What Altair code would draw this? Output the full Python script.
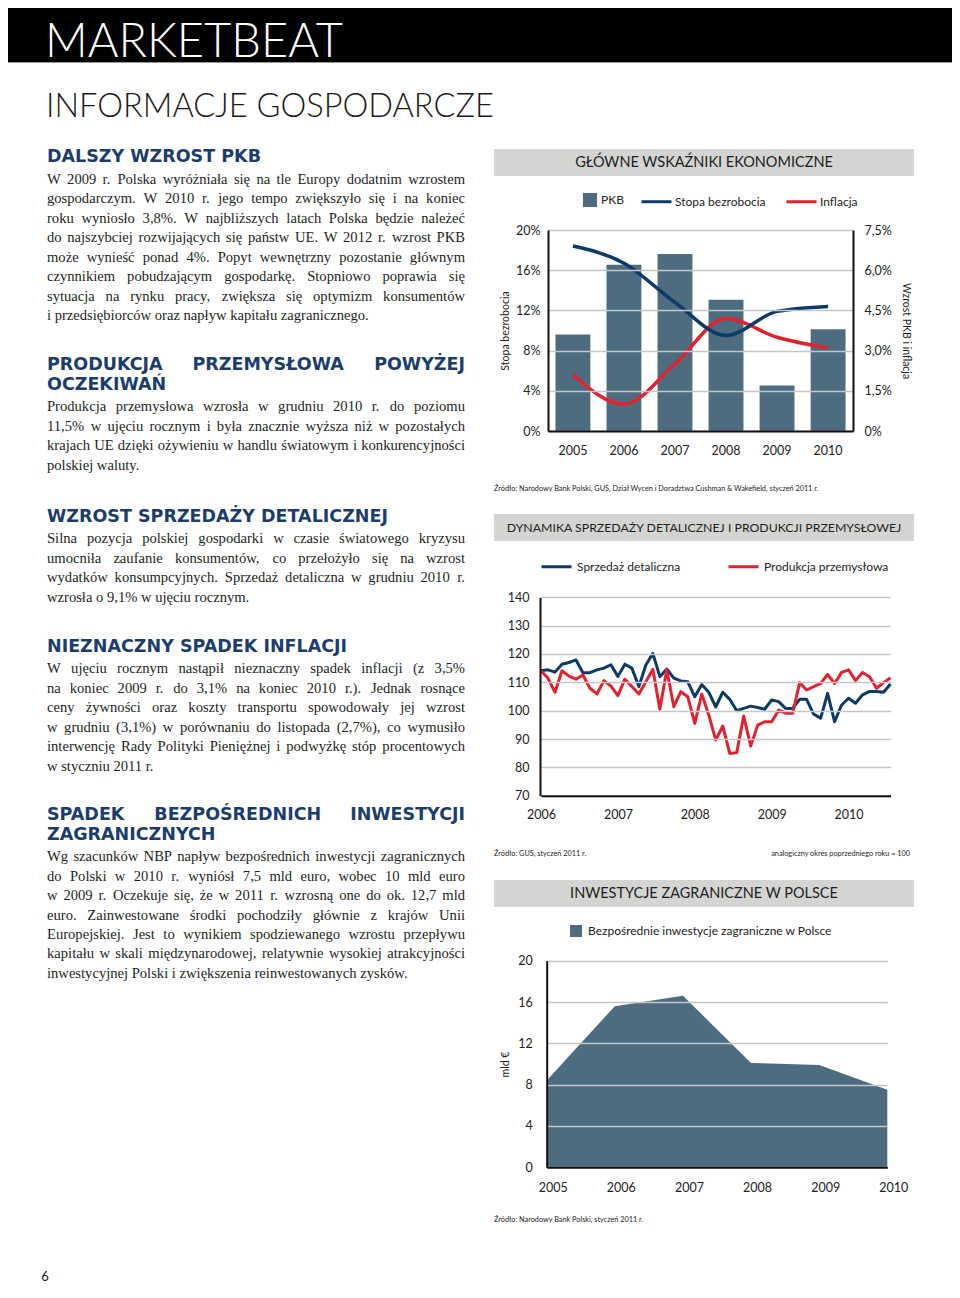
import json
import altair as alt
import pandas as pd

# ======================= DATA =======================
# Wykres 1: GŁÓWNE WSKAŹNIKI EKONOMICZNE
lata_wsk = ['2005', '2006', '2007', '2008', '2009', '2010']
pkb = [3.6, 6.2, 6.6, 4.9, 1.7, 3.8]                     # % (prawa oś)
stopa_bezrobocia = [18.4, 16.7, 12.8, 9.5, 11.9, 12.4]   # % (lewa oś)
inflacja = [2.1, 1.0, 2.5, 4.2, 3.5, 3.1]                # % (prawa oś)
ticks_lewa = [0, 4, 8, 12, 16, 20]
ticks_prawa = [0, 1.5, 3.0, 4.5, 6.0, 7.5]

# Wykres 2: DYNAMIKA SPRZEDAŻY DETALICZNEJ I PRODUKCJI PRZEMYSŁOWEJ (miesięcznie)
sprzedaz = [114.1, 114.4, 113.6, 116.4, 117.0, 117.9, 113.4, 113.4, 114.4, 115.0,
            116.2, 112.1, 116.4, 115.0, 108.5, 116.1, 120.2, 112.0, 114.7, 111.5,
            110.5, 110.2, 104.9, 109.2, 106.5, 101.3, 106.5, 104.0, 100.0, 100.8,
            101.6, 101.1, 100.5, 103.8, 103.2, 100.8, 100.8, 104.0, 104.0, 98.8,
            97.3, 106.1, 96.1, 102.0, 104.4, 102.6, 105.6, 106.8, 106.8, 106.5,
            109.4]
produkcja = [114.1, 111.4, 106.5, 114.1, 112.2, 111.1, 112.6, 107.9, 105.9, 110.6,
             108.7, 105.3, 111.1, 108.5, 105.9, 110.2, 114.6, 100.5, 114.4, 101.4,
             106.7, 104.9, 95.5, 105.9, 98.5, 89.6, 94.6, 84.9, 85.2, 98.1,
             87.5, 94.9, 96.1, 96.1, 100.2, 99.1, 99.1, 109.9, 107.3, 108.5,
             109.6, 112.8, 109.6, 113.5, 114.4, 110.6, 113.5, 112.0, 107.9, 109.9,
             111.6]
lata_dyn = ['2006', '2007', '2008', '2009', '2010']
lata_dyn_pozycja = [0, 11, 22, 33, 44]        # indeks miesiąca pod etykietą roku
ticks_dyn = [70, 80, 90, 100, 110, 120, 130, 140]

# Wykres 3: INWESTYCJE ZAGRANICZNE W POLSCE
lata_bzi = ['2005', '2006', '2007', '2008', '2009', '2010']
bzi = [8.4, 15.6, 16.6, 10.1, 9.9, 7.5]       # mld €
ticks_bzi = [0, 4, 8, 12, 16, 20]

# ======================= TEXT =======================
sekcje = [
    (["DALSZY WZROST PKB"],
     ["W 2009 r. Polska wyróżniała się na tle Europy dodatnim wzrostem",
      "gospodarczym. W 2010 r. jego tempo zwiększyło się i na koniec",
      "roku wyniosło 3,8%. W najbliższych latach Polska będzie należeć",
      "do najszybciej rozwijających się państw UE. W 2012 r. wzrost PKB",
      "może wynieść ponad 4%. Popyt wewnętrzny pozostanie głównym",
      "czynnikiem pobudzającym gospodarkę. Stopniowo poprawia się",
      "sytuacja na rynku pracy, zwiększa się optymizm konsumentów",
      "i przedsiębiorców oraz napływ kapitału zagranicznego."]),
    (["PRODUKCJA PRZEMYSŁOWA POWYŻEJ", "OCZEKIWAŃ"],
     ["Produkcja przemysłowa wzrosła w grudniu 2010 r. do poziomu",
      "11,5% w ujęciu rocznym i była znacznie wyższa niż w pozostałych",
      "krajach UE dzięki ożywieniu w handlu światowym i konkurencyjności",
      "polskiej waluty."]),
    (["WZROST SPRZEDAŻY DETALICZNEJ"],
     ["Silna pozycja polskiej gospodarki w czasie światowego kryzysu",
      "umocniła zaufanie konsumentów, co przełożyło się na wzrost",
      "wydatków konsumpcyjnych. Sprzedaż detaliczna w grudniu 2010 r.",
      "wzrosła o 9,1% w ujęciu rocznym."]),
    (["NIEZNACZNY SPADEK INFLACJI"],
     ["W ujęciu rocznym nastąpił nieznaczny spadek inflacji (z 3,5%",
      "na koniec 2009 r. do 3,1% na koniec 2010 r.). Jednak rosnące",
      "ceny żywności oraz koszty transportu spowodowały jej wzrost",
      "w grudniu (3,1%) w porównaniu do listopada (2,7%), co wymusiło",
      "interwencję Rady Polityki Pieniężnej i podwyżkę stóp procentowych",
      "w styczniu 2011 r."]),
    (["SPADEK BEZPOŚREDNICH INWESTYCJI", "ZAGRANICZNYCH"],
     ["Wg szacunków NBP napływ bezpośrednich inwestycji zagranicznych",
      "do Polski w 2010 r. wyniósł 7,5 mld euro, wobec 10 mld euro",
      "w 2009 r. Oczekuje się, że w 2011 r. wzrosną one do ok. 12,7 mld",
      "euro. Zainwestowane środki pochodziły głównie z krajów Unii",
      "Europejskiej. Jest to wynikiem spodziewanego wzrostu przepływu",
      "kapitału w skali międzynarodowej, relatywnie wysokiej atrakcyjności",
      "inwestycyjnej Polski i zwiększenia reinwestowanych zysków."]),
]
tytuly_wykresow = ["GŁÓWNE WSKAŹNIKI EKONOMICZNE",
                   "DYNAMIKA SPRZEDAŻY DETALICZNEJ I PRODUKCJI PRZEMYSŁOWEJ",
                   "INWESTYCJE ZAGRANICZNE W POLSCE"]
zrodla = ["Źródło: Narodowy Bank Polski, GUS, Dział Wycen i Doradztwa Cushman & Wakefield, styczeń 2011 r.",
          "Źródło: GUS, styczeń 2011 r.",
          "analogiczny okres poprzedniego roku = 100",
          "Źródło: Narodowy Bank Polski, styczeń 2011 r."]

# ======================= STYLE / LAYOUT =======================
W, H = 944, 1276
M = 8


def P(v):
    """page pixel -> chart pixel"""
    return v - M


NAVY = '#0d3a67'
RED = '#e3222f'
SLATE = '#4e6c80'
HEAD = '#1b3d6e'
TXT = '#231f20'
GRID = '#c6c6c6'
BAND = '#d4d4d2'
SANS = 'Lato'

# font metrics for justification (Times-compatible Liberation Serif, DejaVu Sans Bold caps)
TIMES = dict(zip('abcdefghijklmnopqrstuvwxyz',
                 [444, 500, 444, 500, 444, 333, 500, 500, 278, 278, 500, 278, 778,
                  500, 500, 500, 500, 333, 389, 278, 500, 500, 722, 500, 500, 444]))
TIMES.update(zip('ABCDEFGHIJKLMNOPQRSTUVWXYZ',
                 [722, 667, 667, 722, 611, 556, 722, 722, 333, 389, 722, 611, 889,
                  722, 722, 556, 722, 667, 556, 611, 722, 722, 944, 722, 722, 611]))
TIMES.update({' ': 250, '.': 250, ',': 250, '%': 833, '(': 333, ')': 333, ':': 278,
              ';': 278, '-': 333, '=': 564, '&': 778,
              'ą': 444, 'ć': 444, 'ę': 444, 'ł': 278, 'ń': 500, 'ó': 500, 'ś': 389,
              'ź': 444, 'ż': 444, 'Ą': 722, 'Ć': 667, 'Ę': 611, 'Ł': 611, 'Ń': 722,
              'Ó': 722, 'Ś': 556, 'Ź': 611, 'Ż': 611})
for d in '0123456789':
    TIMES[d] = 500
DJB = dict(zip('ABCDEFGHIJKLMNOPQRSTUVWXYZ',
               [.774, .762, .734, .830, .683, .683, .821, .837, .372, .372, .775, .637, .995,
                .837, .850, .733, .850, .770, .720, .682, .812, .774, 1.103, .771, .724, .725]))
DJB.update({' ': .348, 'Ł': .640, 'Ń': .837, 'Ś': .720, 'Ż': .725, 'Ź': .725,
            'Ó': .850, 'Ę': .683, 'Ą': .774, 'Ć': .734})


def em_times(s):
    return sum(TIMES.get(c, 500) for c in s) / 1000.0


def em_djb(s):
    return sum(DJB.get(c, .75) for c in s)


X0, X1 = P(47), P(465)
HEAD_SIZE = 17.5
just_lines = [l for _, body in sekcje for l in body[:-1]]
BODY_SIZE = min(15.0, 0.99 * (X1 - X0) / max(em_times(l) for l in just_lines))


def justify(line, y, emf, size, do_just):
    words = line.split(' ')
    if not do_just or len(words) == 1:
        return [dict(t=line, x=X0, y=y, a='left')]
    ws = [emf(w) * size for w in words]
    gap = (X1 - X0 - sum(ws)) / (len(words) - 1)
    rows, x = [], X0
    for i, (w, ww) in enumerate(zip(words, ws)):
        if i == len(words) - 1:
            rows.append(dict(t=w, x=X1, y=y, a='right'))
        else:
            rows.append(dict(t=w, x=x, y=y, a='left'))
        x += ww + gap
    return rows


sekcje_y = [162.3, 370, 521.7, 651.7, 820]   # page baselines of section headings
HEAD_STEP, HEAD_TO_BODY, BODY_STEP = 19.5, 21.7, 19.45
head_rows, body_rows = [], []
for (heads, body), y0 in zip(sekcje, sekcje_y):
    y = P(y0)
    for i, h in enumerate(heads):
        head_rows += justify(h, y, em_djb, HEAD_SIZE, i < len(heads) - 1)
        if i < len(heads) - 1:
            y += HEAD_STEP
    y += HEAD_TO_BODY
    for i, line in enumerate(body):
        body_rows += justify(line, y, em_times, BODY_SIZE, i < len(body) - 1)
        y += BODY_STEP
head_df = pd.DataFrame(head_rows)
body_df = pd.DataFrame(body_rows)

ONE = pd.DataFrame({'k': [0]})


def text_layer(df, align, **style):
    d = df[df.a == align]
    return alt.Chart(d).mark_text(align=align, baseline='alphabetic', **style).encode(
        x=alt.X('x:Q', scale=None, axis=None),
        y=alt.Y('y:Q', scale=None, axis=None),
        text='t:N')


def axis(**kw):
    base = dict(domainColor='#111111', domainWidth=2, ticks=False, tickSize=0,
                labelFont=SANS, labelFontSize=12.5, labelColor='#222222',
                titleFont=SANS, titleFontSize=10.5, titleFontWeight='normal',
                titleColor='#222222', gridColor=GRID, gridWidth=1.5, zindex=1)
    base.update(kw)
    return alt.Axis(**base)


def legend(x, y, **kw):
    base = dict(orient='none', legendX=x, legendY=y, title=None, padding=0,
                labelFont=SANS, labelFontSize=12, labelColor='#222222',
                labelLimit=400, direction='horizontal')
    base.update(kw)
    return alt.Legend(**base)


# ======================= PAGE DECOR =======================
header = alt.Chart(ONE).mark_rect(color='black').encode(
    x=alt.value(0), x2=alt.value(W), y=alt.value(0), y2=alt.value(P(62)))
header_line = alt.Chart(ONE).mark_rule(color='#9a9a9a', strokeWidth=1).encode(
    x=alt.value(0), x2=alt.value(W), y=alt.value(P(62.5)))
marketbeat = alt.Chart(ONE).mark_text(
    text='MARKETBEAT', font=SANS, fontWeight=300, fontSize=47, color='white',
    align='left', baseline='alphabetic').encode(x=alt.value(P(45)), y=alt.value(P(57)))
informacje = alt.Chart(ONE).mark_text(
    text='INFORMACJE GOSPODARCZE', font=SANS, fontWeight=300, fontSize=32.6, color='#1a1a1a',
    align='left', baseline='alphabetic').encode(x=alt.value(P(46)), y=alt.value(P(117)))
strona = alt.Chart(ONE).mark_text(
    text='6', font=SANS, fontSize=13, color='#222222', align='center',
    baseline='bottom').encode(x=alt.value(P(45)), y=alt.value(H))

bands = pd.DataFrame({'x0': [P(494)] * 3, 'x1': [P(914)] * 3,
                      'y0': [P(149), P(514), P(880)], 'y1': [P(176), P(541), P(907)],
                      't': tytuly_wykresow, 'fs': [14.5, 12.3, 14.5]})
bands['cx'] = (bands.x0 + bands.x1) / 2
bands['cy'] = (bands.y0 + bands.y1) / 2 + 0.5
band_rect = alt.Chart(bands).mark_rect(color=BAND).encode(
    x=alt.X('x0:Q', scale=None, axis=None), x2='x1:Q',
    y=alt.Y('y0:Q', scale=None, axis=None), y2='y1:Q')
band_text = alt.Chart(bands).mark_text(font=SANS, color='#1e1e1e', align='center',
                                       baseline='middle').encode(
    x=alt.X('cx:Q', scale=None, axis=None), y=alt.Y('cy:Q', scale=None, axis=None),
    text='t:N', size=alt.Size('fs:Q', scale=None, legend=None))

src = pd.DataFrame({'t': zrodla,
                    'x': [P(494), P(494), P(910), P(494)],
                    'y': [P(491), P(856), P(856), P(1222)],
                    'a': ['left', 'left', 'right', 'left']})
src_left = text_layer(src, 'left', font=SANS, fontSize=7.3, color='#222222')
src_right = text_layer(src, 'right', font=SANS, fontSize=7.3, color='#222222')

body_left = text_layer(body_df, 'left', font='Liberation Serif', fontSize=BODY_SIZE, color=TXT)
body_right = text_layer(body_df, 'right', font='Liberation Serif', fontSize=BODY_SIZE, color=TXT)
head_left = text_layer(head_df, 'left', font='DejaVu Sans', fontWeight='bold',
                       fontSize=HEAD_SIZE, color=HEAD)
head_right = text_layer(head_df, 'right', font='DejaVu Sans', fontWeight='bold',
                        fontSize=HEAD_SIZE, color=HEAD)

# ======================= CHART 1 =======================
df1 = pd.DataFrame({'rok': lata_wsk, 'pkb': pkb, 'bezrobocie': stopa_bezrobocia,
                    'inflacja': inflacja})
c1_left, c1_right, c1_top, c1_bottom = P(548), P(853), P(230), P(431)
x1 = alt.Scale(type='band', domain=lata_wsk, range=[c1_left, c1_right],
               paddingInner=0.316, paddingOuter=0.146)
y1r = alt.Scale(domain=[0, 7.5], range=[c1_bottom, c1_top], nice=False, zero=True)
y1l = alt.Scale(domain=[0, 20], range=[c1_bottom, c1_top], nice=False, zero=True)
col1 = alt.Scale(domain=['Stopa bezrobocia', 'Inflacja'], range=[NAVY, RED])
leg1_lines = legend(P(640), P(200) - 15, symbolType='stroke', symbolSize=900,
                    symbolStrokeWidth=3, labelOffset=2, columnPadding=14)

bars1 = alt.Chart(df1).transform_calculate(seria="'PKB'").mark_bar().encode(
    x=alt.X('rok:N', scale=x1, title=None,
            axis=axis(orient='bottom', offset=c1_bottom - H, labelPadding=13.5, labelAngle=0)),
    y=alt.Y('pkb:Q', scale=y1r,
            axis=axis(orient='right', offset=c1_right - W, values=ticks_prawa,
                      labelExpr="datum.value == 0 ? '0%' : replace(format(datum.value, '.1f'), '.', ',') + '%'",
                      labelPadding=11, grid=False, title='Wzrost PKB i inflacja',
                      titleAngle=90, titleX=P(905) - c1_right, titleBaseline='middle')),
    fill=alt.Fill('seria:N', scale=alt.Scale(domain=['PKB'], range=[SLATE]),
                  legend=legend(P(583), P(193), symbolType='square', symbolSize=196,
                                symbolStrokeWidth=0, labelOffset=4)),
)
infl1 = alt.Chart(df1).transform_calculate(seria="'Inflacja'").mark_line(
    strokeWidth=3.5, interpolate='monotone').encode(
    x=alt.X('rok:N', scale=x1, axis=None),
    y=alt.Y('inflacja:Q', scale=y1r, axis=None),
    color=alt.Color('seria:N', scale=col1, legend=leg1_lines),
)
bezr1 = alt.Chart(df1).transform_calculate(seria="'Stopa bezrobocia'").mark_line(
    strokeWidth=3.5, interpolate='monotone').encode(
    x=alt.X('rok:N', scale=x1, axis=None),
    y=alt.Y('bezrobocie:Q', scale=y1l,
            axis=axis(orient='left', offset=-c1_left, values=ticks_lewa,
                      labelExpr="datum.value + '%'", labelPadding=8, grid=True,
                      title='Stopa bezrobocia', titleAngle=270,
                      titleX=P(505) - c1_left, titleBaseline='middle')),
    color=alt.Color('seria:N', scale=col1, legend=leg1_lines),
)
chart1 = alt.layer(
    alt.layer(bars1, infl1).resolve_axis(x='independent', y='independent'),
    bezr1,
).resolve_scale(y='independent').resolve_axis(x='independent', y='independent')

# ======================= CHART 2 =======================
df2 = pd.DataFrame({'m': list(range(len(sprzedaz))), 'sprzedaz': sprzedaz,
                    'produkcja': produkcja})
c2_left, c2_right, c2_top, c2_bottom = P(540), P(891.5), P(597.3), P(795.7)
x2 = alt.Scale(domain=[0, len(sprzedaz) - 1], range=[c2_left + 1, c2_right - 1],
               nice=False, zero=False)
y2 = alt.Scale(domain=[70, 140], range=[c2_bottom, c2_top], nice=False, zero=False)
col2 = alt.Scale(domain=['Sprzedaż detaliczna', 'Produkcja przemysłowa'], range=[NAVY, RED])
leg2 = legend(P(540), P(565) - 15, symbolType='stroke', symbolSize=900,
              symbolStrokeWidth=3, labelOffset=4, columnPadding=41)
year_expr = f"{json.dumps(lata_dyn)}[indexof({json.dumps(lata_dyn_pozycja)}, datum.value)]"

blue2 = alt.Chart(df2).transform_calculate(seria="'Sprzedaż detaliczna'").mark_line(
    strokeWidth=3, strokeJoin='round').encode(
    x=alt.X('m:Q', scale=x2, title=None,
            axis=axis(orient='bottom', offset=c2_bottom - H, values=lata_dyn_pozycja,
                      labelExpr=year_expr, labelFlush=False, labelPadding=13)),
    y=alt.Y('sprzedaz:Q', scale=y2, title=None,
            axis=axis(orient='left', offset=-c2_left, values=ticks_dyn,
                      labelPadding=11, grid=True)),
    color=alt.Color('seria:N', scale=col2, legend=leg2),
)
red2 = alt.Chart(df2).transform_calculate(seria="'Produkcja przemysłowa'").mark_line(
    strokeWidth=3, strokeJoin='round').encode(
    x=alt.X('m:Q', scale=x2, axis=None),
    y=alt.Y('produkcja:Q', scale=y2, axis=None),
    color=alt.Color('seria:N', scale=col2, legend=leg2),
)
chart2 = alt.layer(blue2, red2).resolve_axis(x='independent', y='independent')

# ======================= CHART 3 =======================
df3 = pd.DataFrame({'rok': lata_bzi, 'bzi': bzi})
c3_left, c3_right, c3_top, c3_bottom = P(546.7), P(887.3), P(960.7), P(1167.3)
x3 = alt.Scale(type='point', domain=lata_bzi, range=[c3_left, c3_right], padding=0)
y3 = alt.Scale(domain=[0, 20], range=[c3_bottom, c3_top], nice=False, zero=True)
area3 = alt.Chart(df3).transform_calculate(
    seria="'Bezpośrednie inwestycje zagraniczne w Polsce'").mark_area(opacity=1).encode(
    x=alt.X('rok:O', scale=x3, title=None,
            axis=axis(orient='bottom', offset=c3_bottom - H, labelPadding=14, labelAngle=0,
                      labelOffset=6)),
    y=alt.Y('bzi:Q', scale=y3,
            axis=axis(orient='left', offset=-c3_left, values=ticks_bzi, labelPadding=14.5,
                      grid=True, title='mld €', titleAngle=270,
                      titleX=P(505) - c3_left, titleBaseline='middle')),
    fill=alt.Fill('seria:N',
                  scale=alt.Scale(domain=['Bezpośrednie inwestycje zagraniczne w Polsce'],
                                  range=[SLATE]),
                  legend=legend(P(570), P(925), symbolType='square', symbolSize=144,
                                symbolStrokeWidth=0, labelOffset=6)),
)
chart3 = area3

# ======================= PAGE =======================
chart = alt.layer(
    header, header_line, marketbeat, informacje, strona,
    band_rect, band_text, src_left, src_right,
    head_left, head_right, body_left, body_right,
    chart1, chart2, chart3,
).resolve_scale(
    x='independent', y='independent', color='independent', fill='independent'
).properties(
    width=W, height=H, padding=0,
    autosize=alt.AutoSizeParams(type='none'),
).configure_view(stroke=None)

chart.save("out.html", embed_options={"renderer": "svg", "actions": False})
